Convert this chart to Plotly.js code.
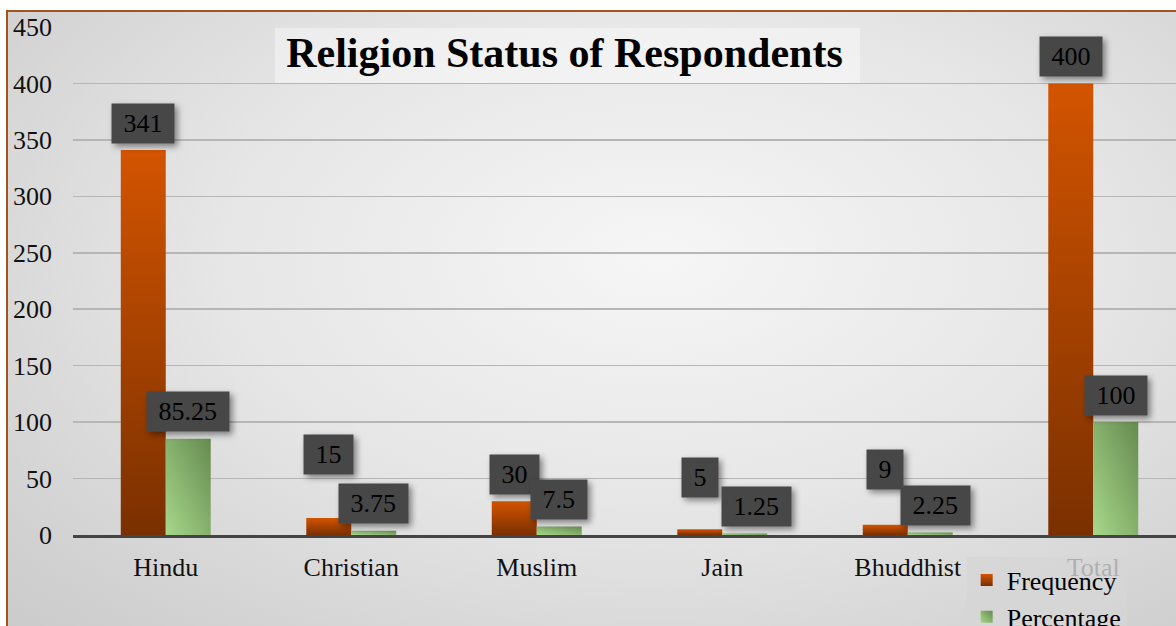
<!DOCTYPE html>
<html>
<head>
<meta charset="utf-8">
<script src="https://cdn.plot.ly/plotly-3.0.1.min.js"></script>
<style>
  html, body { margin: 0; padding: 0; background: #ffffff; width: 1176px; height: 626px; overflow: hidden; }
  #frame {
    position: absolute; left: 6px; top: 10px; width: 1300px; height: 700px;
    border-left: 2px solid #a4531c; border-top: 2px solid #a4531c;
    background: radial-gradient(ellipse 75% 80% at 50% 35%, #f6f6f6 0%, #e6e6e6 45%, #d2d2d2 80%, #c8c8c8 100%);
  }
  #chart { position: absolute; left: 0; top: 0; width: 1176px; height: 626px; }
</style>
</head>
<body>
<div id="frame"></div>
<div id="chart"></div>
<script>
// ---- data ----
const categories = ['Hindu', 'Christian', 'Muslim', 'Jain', 'Bhuddhist', 'Total'];
const frequency = [341, 15, 30, 5, 9, 400];
const percentage = [85.25, 3.75, 7.5, 1.25, 2.25, 100];
const chartTitle = 'Religion Status of Respondents';
const yTicks = [0, 50, 100, 150, 200, 250, 300, 350, 400, 450];

// ---- label nudges (style, px) ----
const freqLabelLift = [0, 37, 0, 25, 28, 0];
const pctLabelShiftX = [0, 0, 0, 12, 5, 0];

const FONT = 'Liberation Serif, Times New Roman, serif';
const bargap = 0.515;
const bw = (1 - bargap) / 2;

const traces = [
  { type: 'bar', name: 'Frequency', x: categories, y: frequency,
    marker: { color: '#b04500', line: { width: 0 } }, hoverinfo: 'none' },
  { type: 'bar', name: 'Percentage', x: categories, y: percentage,
    marker: { color: '#86b56c', line: { width: 0 } }, hoverinfo: 'none' }
];

const annotations = [];
const nb = '\u00a0';
categories.forEach((c, i) => {
  annotations.push({
    x: i - bw / 2, y: frequency[i], xref: 'x', yref: 'y',
    text: nb + frequency[i] + nb, showarrow: false,
    yanchor: 'middle', xanchor: 'center', yshift: 27 + freqLabelLift[i],
    bgcolor: '#474747', borderpad: 5,
    font: { family: FONT, size: 26, color: '#000000' }
  });
  annotations.push({
    x: i + bw / 2, y: percentage[i], xref: 'x', yref: 'y',
    text: nb + percentage[i] + nb, showarrow: false,
    yanchor: 'middle', xanchor: 'center', yshift: 27, xshift: pctLabelShiftX[i],
    bgcolor: '#474747', borderpad: 5,
    font: { family: FONT, size: 26, color: '#000000' }
  });
});

const layout = {
  width: 1176, height: 626,
  paper_bgcolor: 'rgba(0,0,0,0)', plot_bgcolor: 'rgba(0,0,0,0)',
  margin: { l: 73, r: 0, t: 27, b: 91, autoexpand: false },
  barmode: 'group', bargap: bargap, bargroupgap: 0,
  title: {
    text: '<b>' + chartTitle + '</b>',
    font: { family: FONT, size: 42, color: '#000000' },
    x: 0.48, xanchor: 'center', y: 0.917, yanchor: 'middle'
  },
  xaxis: {
    type: 'category', range: [-0.5, 5.446],
    showgrid: false, showline: true, linecolor: '#444444', linewidth: 3,
    ticks: '', ticklabelstandoff: 7,
    tickfont: { family: FONT, size: 26, color: '#111111' }
  },
  yaxis: {
    range: [0, 450], tickvals: yTicks, ticktext: yTicks.map(String),
    showgrid: true, gridcolor: '#b6b6b6', gridwidth: 1.5,
    zeroline: false, showline: false, ticks: '', ticklabelstandoff: 20,
    tickfont: { family: FONT, size: 26, color: '#111111' }
  },
  legend: {
    xref: 'container', yref: 'container',
    x: 0.822, xanchor: 'left', y: 0.111, yanchor: 'top',
    bgcolor: 'rgba(214,214,214,0.8)', borderwidth: 0,
    font: { family: FONT, size: 26, color: '#000000' },
    tracegroupgap: 0, itemwidth: 30
  },
  shapes: [{
    type: 'rect', xref: 'paper', yref: 'paper', layer: 'below',
    x0: 0.183, x1: 0.7135, y0: 0.8898, y1: 0.998,
    fillcolor: 'rgba(255,255,255,0.4)', line: { width: 0 }
  }],
  annotations: annotations,
  showlegend: true
};

Plotly.newPlot('chart', traces, layout, { staticPlot: true, displayModeBar: false }).then(gd => {
  const svg = gd.querySelector('.main-svg');
  const ns = 'http://www.w3.org/2000/svg';
  let defs = svg.querySelector('defs');
  if (!defs) { defs = document.createElementNS(ns, 'defs'); svg.insertBefore(defs, svg.firstChild); }
  defs.insertAdjacentHTML('beforeend',
    '<linearGradient id="gFreq" x1="0" y1="0" x2="0" y2="1">' +
      '<stop offset="0" stop-color="#d35400"/><stop offset="1" stop-color="#7a3000"/></linearGradient>' +
    '<linearGradient id="gPct" x1="0" y1="1" x2="1" y2="0">' +
      '<stop offset="0" stop-color="#a6d88a"/><stop offset="1" stop-color="#668a50"/></linearGradient>' +
    '<filter id="shadow" x="-20%" y="-20%" width="150%" height="160%">' +
      '<feDropShadow dx="3" dy="3" stdDeviation="3" flood-color="#000" flood-opacity="0.45"/></filter>');
  const bars = gd.querySelectorAll('.barlayer .trace');
  bars.forEach((t, k) => {
    t.querySelectorAll('path').forEach(p => { p.style.fill = k === 0 ? 'url(#gFreq)' : 'url(#gPct)'; });
  });
  const legendPts = gd.querySelectorAll('.legend .traces');
  legendPts.forEach((t, k) => {
    t.querySelectorAll('.legendpoints path').forEach(p => { p.style.fill = k === 0 ? 'url(#gFreq)' : 'url(#gPct)'; });
  });
  gd.querySelectorAll('.annotation rect.bg').forEach(r => r.setAttribute('filter', 'url(#shadow)'));
});
</script>
</body>
</html>
